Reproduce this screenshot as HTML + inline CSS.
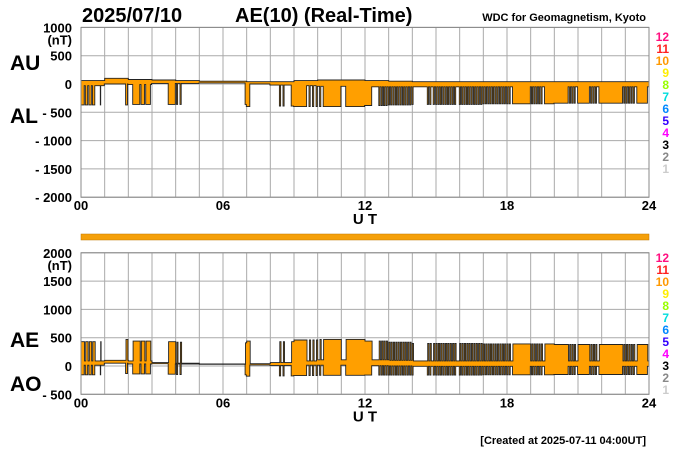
<!DOCTYPE html>
<html><head><meta charset="utf-8"><style>
body{margin:0;background:#fff;}
svg{display:block;font-family:"Liberation Sans",sans-serif;}
.t{font-weight:bold;font-size:13px;}
</style></head><body>
<svg id="chart" width="700" height="450" viewBox="0 0 700 450" xmlns="http://www.w3.org/2000/svg">
<text x="82" y="22" font-size="20" font-weight="bold">2025/07/10</text>
<text x="235" y="22" font-size="20" font-weight="bold">AE(10) (Real-Time)</text>
<text x="646" y="21" font-size="11" font-weight="bold" text-anchor="end">WDC for Geomagnetism, Kyoto</text>
<text x="10" y="70" font-size="21" font-weight="bold">AU</text>
<text x="10" y="123" font-size="21" font-weight="bold">AL</text>
<text x="10" y="347" font-size="21" font-weight="bold">AE</text>
<text x="10" y="391" font-size="21" font-weight="bold">AO</text>
<rect x="81" y="234" width="568" height="6" fill="#f5a00a" stroke="#c07800" stroke-width="0.5"/>
<text x="646" y="444" font-size="11" font-weight="bold" text-anchor="end">[Created at 2025-07-11 04:00UT]</text>
<g id="top"></g><g id="bot"></g>
</svg>
<script>
const hourNormalAU=[60,100,80,70,60,50,50,40,40,60,70,70,60,50,40,40,40,40,40,40,40,40,40,40];
const hourNormalAL=[-30,0,-10,10,10,20,20,0,-20,-30,-40,-40,-50,-50,-50,-50,-50,-50,-50,-50,-50,-50,-50,-50];
const glitchAL=[-370,-370,-360,-360,-360,-360,-360,-400,-390,-400,-400,-400,-380,-370,-360,-360,-360,-350,-350,-350,-340,-340,-340,-340];
const glitchStart=[0.0,0.2,0.35,0.5,0.82,1.9,2.2,2.55,2.75,3.7,4.05,4.2,6.95,8.4,8.55,8.9,9.65,9.8,9.95,10.1,10.25,11.2,
12.6,12.7,12.8,12.9,13.0,13.1,13.2,13.3,13.4,13.5,13.6,13.7,13.8,13.9,14.0,14.65,14.75,14.9,15.0,15.1,15.2,15.3,15.4,15.5,15.6,15.7,15.8,
16.0,16.1,16.2,16.3,16.4,16.5,16.6,16.7,16.8,16.9,17.0,17.1,17.2,17.3,17.4,17.5,17.6,17.7,17.8,17.9,18.0,18.1,
18.25,19.05,19.15,19.25,19.35,19.45,19.6,20.65,20.75,20.85,21.0,21.55,21.65,21.75,21.9,22.95,23.05,23.15,23.25,23.35,23.5];
const glitchEnd=[0.15,0.3,0.45,0.6,0.84,1.97,2.5,2.7,2.95,4.0,4.1,4.25,7.15,8.45,8.6,9.55,9.7,9.85,10.0,10.15,11.0,12.3,
12.65,12.75,12.85,12.95,13.05,13.15,13.25,13.35,13.45,13.55,13.65,13.75,13.85,13.95,14.05,14.7,14.8,14.95,15.05,15.15,15.25,15.35,15.45,15.55,15.65,15.75,15.85,
16.05,16.15,16.25,16.35,16.45,16.55,16.65,16.75,16.85,16.95,17.05,17.15,17.25,17.35,17.45,17.55,17.65,17.75,17.85,17.95,18.05,18.15,
19.0,19.1,19.2,19.3,19.4,19.5,20.6,20.7,20.8,20.9,21.5,21.6,21.7,21.8,22.9,23.0,23.1,23.2,23.3,23.4,23.95];
const yTicksTop=[1000,500,0,-500,-1000,-1500,-2000];
const yTickLabelsTop=["1000","500","0","- 500","- 1000","- 1500","- 2000"];
const yTicksBot=[2000,1500,1000,500,0,-500];
const yTickLabelsBot=["2000","1500","1000","500","0","- 500"];
const xTicks=[0,6,12,18,24];
const xTickLabels=["00","06","12","18","24"];
const stationLabels=["12","11","10","9","8","7","6","5","4","3","2","1"];
const stationColors=["#ff1080","#ff2020","#ff9900","#ffee00","#99ff00","#00dddd","#0088ff","#3300ff","#ff00ff","#000000","#888888","#cccccc"];

const NS="http://www.w3.org/2000/svg";
const X0=81,X1=649;
const xs=h=>X0+(X1-X0)*h/24;
const yTop=v=>84-v*56.6/1000;
const yBot=v=>366-v*56.6/1000;
function mk(parent,tag,attrs){const e=document.createElementNS(NS,tag);for(const k in attrs)e.setAttribute(k,attrs[k]);parent.appendChild(e);return e;}
function isGlitch(h){for(let i=0;i<glitchStart.length;i++)if(h>=glitchStart[i]&&h<glitchEnd[i])return true;return false;}
const times=[],AU=[],AL=[],AE=[],AO=[];
for(let i=0;i<=1440;i++){const h=i/60;const hi=Math.min(23,Math.floor(h));
 const au=hourNormalAU[hi];const al=isGlitch(h)?glitchAL[hi]:hourNormalAL[hi];
 times.push(h);AU.push(au);AL.push(al);AE.push(au-al);AO.push((au+al)/2);}

function panel(g,ys,ticks,labels,yMaxV,yMinV,upper,lower,pname,labY){
 const svg=g;
 for(let h=0;h<=24;h++){const l=mk(svg,'line',{x1:xs(h),x2:xs(h),y1:ys(yMaxV),y2:ys(yMinV),stroke:'#aaa','stroke-width':1});
  
  }
 ticks.forEach((v,i)=>{const l=mk(svg,'line',{x1:X0,x2:X1,y1:ys(v),y2:ys(v),stroke:'#aaa','stroke-width':1});
  
  
  const t=mk(svg,'text',{x:72,y:ys(v)+5,'text-anchor':'end',class:'t'});t.textContent=labels[i];
  
  });
 const nt=mk(svg,'text',{x:72,y:ys(yMaxV)+17,'text-anchor':'end',class:'t'});nt.textContent='(nT)';
 
 
 let d='';
 for(let i=0;i<times.length;i++){const x=xs(times[i]).toFixed(1);
  if(i)d+='L'+x+' '+ys(upper[i-1]).toFixed(1);
  d+=(i?'L':'M')+x+' '+ys(upper[i]).toFixed(1);}
 for(let i=times.length-1;i>=0;i--){const x=xs(times[i]).toFixed(1);
  if(i<times.length-1)d+='L'+x+' '+ys(lower[i+1]).toFixed(1);
  d+='L'+x+' '+ys(lower[i]).toFixed(1);}
 const p=mk(svg,'path',{d:d+'Z',fill:'#ff9f00',stroke:'#222','stroke-width':0.9,'stroke-linejoin':'miter'});
 
 
 mk(svg,'rect',{x:X0,y:ys(yMaxV),width:X1-X0,height:ys(yMinV)-ys(yMaxV),fill:'none',stroke:'#888','stroke-width':1});
 const yb=ys(yMinV);
 xTicks.forEach((h,i)=>{const t=mk(svg,'text',{x:xs(h),y:yb+13,'text-anchor':'middle',class:'t'});t.textContent=xTickLabels[i];
  
  });
 const ut=mk(svg,'text',{x:365,y:yb+27,'text-anchor':'middle','font-size':15,'font-weight':'bold'});ut.textContent='U T';
 
 
 stationLabels.forEach((s,i)=>{const t=mk(svg,'text',{x:669,y:labY+12*i,'text-anchor':'end','font-size':12,'font-weight':'bold',fill:stationColors[i]});t.textContent=s;
  
  });
}
panel(document.getElementById('top'),yTop,yTicksTop,yTickLabelsTop,1000,-2000,AU,AL,'au-al-band',41);
panel(document.getElementById('bot'),yBot,yTicksBot,yTickLabelsBot,2000,-500,AE,AO,'ae-ao-band',262);
</script>
</body></html>
